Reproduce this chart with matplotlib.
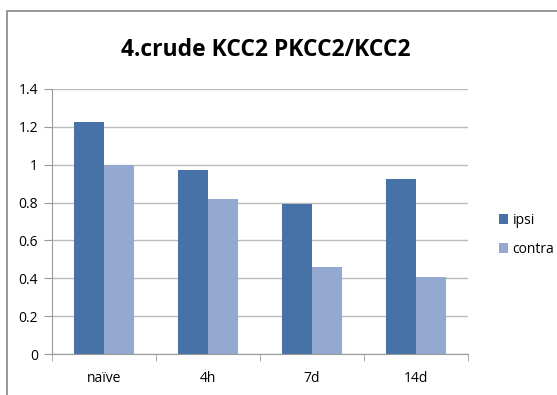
import matplotlib
matplotlib.use("Agg")
import matplotlib.pyplot as plt
from matplotlib.patches import Rectangle
import numpy as np

categories = ["naïve", "4h", "7d", "14d"]
ipsi = [1.225, 0.972, 0.79, 0.923]
contra = [1.0, 0.82, 0.461, 0.405]
yticks = [0, 0.2, 0.4, 0.6, 0.8, 1, 1.2, 1.4]
ytick_labels = ["0", "0.2", "0.4", "0.6", "0.8", "1", "1.2", "1.4"]

plt.rcParams['font.family'] = ['Open Sans', 'DejaVu Sans']

fig = plt.figure(figsize=(5.57, 3.95), dpi=100)
# chart frame (clipped on right and bottom)
fig.patches.append(Rectangle((7 / 557, -0.1), 1.2, (395 - 11) / 395 + 0.1,
                             transform=fig.transFigure, fill=False,
                             edgecolor="#888888", linewidth=1.2))

ax = fig.add_axes([52 / 557, 41 / 395, 416 / 557, 265 / 395])

x = np.arange(len(categories))
w = 0.293
ax.bar(x - w / 2, ipsi, w, color="#4672A8", label="ipsi")
ax.bar(x + w / 2, contra, w, color="#94A9D0", label="contra")

ax.set_xlim(-0.5, len(categories) - 0.5)
ax.set_ylim(0, 1.4)
ax.set_yticks(yticks)
ax.set_yticklabels(ytick_labels)
ax.yaxis.grid(True, color="#BBBBBB", linewidth=1)
ax.set_axisbelow(True)

ax.set_xticks(x)
ax.set_xticklabels(categories)
ax.set_xticks(np.arange(-0.5, len(categories)), minor=True)
ax.tick_params(axis="x", which="major", length=0, pad=12, labelsize=10)
ax.tick_params(axis="x", which="minor", length=5, color="#999999", direction="out")
ax.tick_params(axis="y", length=6, color="#999999", labelsize=10, pad=4)

for s in ["top", "right"]:
    ax.spines[s].set_visible(False)
ax.spines["left"].set_color("#999999")
ax.spines["bottom"].set_color("#999999")

fig.text(266 / 557, 1 - 50 / 395, "4.crude KCC2 PKCC2/KCC2", ha="center", va="center",
         fontsize=16.5, fontweight="bold")

fig.legend(loc="center left", bbox_to_anchor=(486 / 557, 1 - 235 / 395), frameon=False,
           fontsize=10, handlelength=0.7, handleheight=0.7, handletextpad=0.3,
           labelspacing=1.0)

fig.savefig("out.png", dpi=100)
